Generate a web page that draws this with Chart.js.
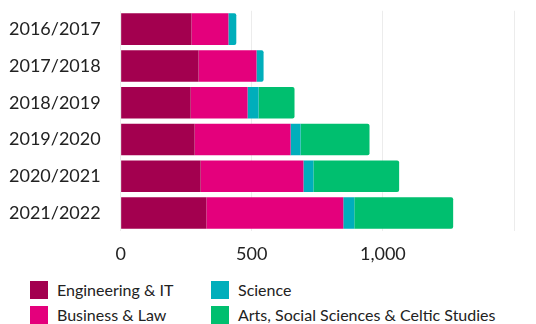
<!DOCTYPE html>
<html>
<head>
<meta charset="utf-8">
<script src="https://cdn.jsdelivr.net/npm/chart.js@4/dist/chart.umd.min.js"></script>
<style>
  html, body { margin: 0; padding: 0; background: #fff; }
  #wrap { position: relative; width: 536px; height: 324px; overflow: hidden; }
  #box { position: absolute; left: 0; top: -20px; width: 536px; height: 288px; }
  .leg { position: absolute; font-family: Lato, sans-serif; font-size: 16px; color: #222; white-space: nowrap; }
  .leg span { position: absolute; left: 0; top: 0; width: 18px; height: 18px; }
  .leg b { font-weight: normal; position: absolute; left: 27px; top: 0; line-height: 18px; }
</style>
</head>
<body>
<div id="wrap">
  <div id="box"><canvas id="chart1"></canvas></div>
  <div id="legend"></div>
</div>
<script>
const years = ["2016/2017", "2017/2018", "2018/2019", "2019/2020", "2020/2021", "2021/2022"];
const engineering = [270, 297, 267, 282, 305, 327];
const business = [141, 221, 217, 366, 392, 522];
const science = [30, 27, 42, 38, 38, 42];
const arts = [0, 0, 137, 263, 327, 377];
const seriesNames = ["Engineering & IT", "Business & Law", "Science", "Arts, Social Sciences & Celtic Studies"];
const colors = ["#a3004f", "#e4007c", "#00aebb", "#00bf6f"];
const xTicks = [0, 500, 1000, 1500];

const ctx1 = document.getElementById("chart1");
const allSeries = [engineering, business, science, arts];

new Chart(ctx1, {
  type: "bar",
  data: {
    labels: years,
    datasets: allSeries.map((d, i) => ({
      label: seriesNames[i],
      data: d,
      backgroundColor: colors[i],
      borderRadius: 2,
      barPercentage: 0.86,
      categoryPercentage: 1,
    })),
  },
  options: {
    indexAxis: "y",
    responsive: true,
    maintainAspectRatio: false,
    animation: false,
    layout: { autoPadding: false, padding: { left: -11, right: 22, top: -9, bottom: -9 } },
    plugins: { legend: { display: false }, tooltip: { enabled: false } },
    scales: {
      x: {
        stacked: true,
        min: 0,
        max: 1500,
        border: { display: false },
        grid: { color: "#ececec", drawTicks: false },
        afterBuildTicks: (axis) => { axis.ticks = xTicks.map(v => ({ value: v })); },
        ticks: {
          padding: 12,
          color: "#222",
          font: { family: "Lato", size: 18 },
          callback: (v) => v === 1500 ? "" : v.toLocaleString("en-US"),
        },
      },
      y: {
        stacked: true,
        border: { display: false },
        grid: { display: false, drawTicks: false },
        ticks: {
          padding: 20,
          color: "#222",
          font: { family: "Lato", size: 18 },
        },
      },
    },
  },
});

// two-column legend, column-major like the original
const legend = document.getElementById("legend");
const legPos = [[30, 281], [30, 306], [211, 281], [211, 306]];
seriesNames.forEach((name, i) => {
  const el = document.createElement("div");
  el.className = "leg";
  el.style.left = legPos[i][0] + "px";
  el.style.top = legPos[i][1] + "px";
  el.innerHTML = '<span style="background:' + colors[i] + '"></span><b>' + name.replace(/&/g, "&amp;") + "</b>";
  legend.appendChild(el);
});
</script>
</body>
</html>
